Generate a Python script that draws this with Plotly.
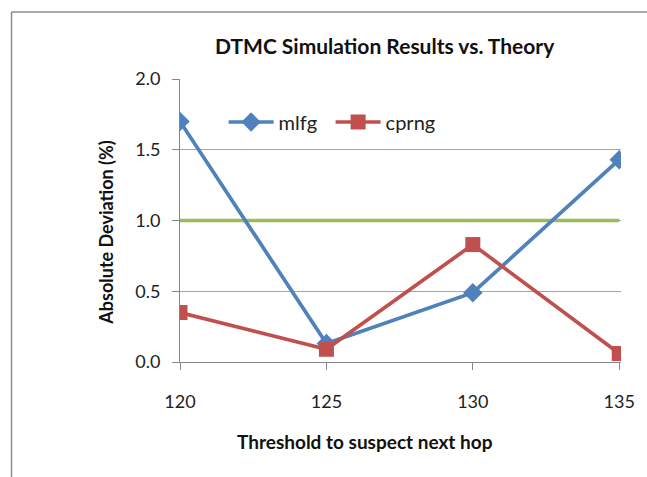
import plotly.graph_objects as go

thresholds = [120, 125, 130, 135]
mlfg = [1.70, 0.13, 0.49, 1.43]
cprng = [0.35, 0.09, 0.83, 0.06]
theory = [1.0, 1.0, 1.0, 1.0]
y_ticks = [0.0, 0.5, 1.0, 1.5, 2.0]
y_tick_labels = ["0.0", "0.5", "1.0", "1.5", "2.0"]
x_ticks = [120, 125, 130, 135]

W, H = 647, 477
L, R, T, B = 180, 22, 79, 115
PW, PH = W - L - R, H - T - B

font = "Lato, 'Open Sans', sans-serif"

fig = go.Figure()
fig.add_trace(go.Scatter(x=thresholds, y=theory, mode="lines", name="theory",
                         line=dict(color="#9BBB59", width=3.5), showlegend=False))
fig.add_trace(go.Scatter(x=thresholds, y=mlfg, mode="lines+markers", name="mlfg",
                         line=dict(color="#4F81BD", width=3.7),
                         marker=dict(symbol="diamond", size=15, color="#4F81BD")))
fig.add_trace(go.Scatter(x=thresholds, y=cprng, mode="lines+markers", name="cprng",
                         line=dict(color="#C0504D", width=3.7),
                         marker=dict(symbol="square", size=15, color="#C0504D")))

fig.update_layout(
    width=W, height=H,
    margin=dict(l=L, r=R, t=T, b=B),
    paper_bgcolor="white", plot_bgcolor="white",
    font=dict(family=font, color="#222222"),
    showlegend=True,
    legend=dict(orientation="h", x=(224 - L) / PW, y=((H - B) - 122) / PH,
                xanchor="left", yanchor="middle", bgcolor="rgba(0,0,0,0)",
                font=dict(size=20, family=font, color="#222222"), itemwidth=45,
                entrywidth=47, entrywidthmode="pixels", tracegroupgap=0),
    annotations=[
        dict(text="DTMC Simulation Results vs. Theory", xref="paper", yref="paper",
             x=(387 - L) / PW, y=1 + (T - 45) / PH, xanchor="center", yanchor="middle",
             showarrow=False, font=dict(size=21, family=font, color="#111111", weight="bold")),
        dict(text="Threshold to suspect next hop", xref="paper", yref="paper",
             x=(367 - L) / PW, y=-(441 - (H - B)) / PH, xanchor="center", yanchor="middle",
             showarrow=False, font=dict(size=19, family=font, color="#111111", weight="bold")),
        dict(text="Absolute Deviation (%)", xref="paper", yref="paper", textangle=-90,
             x=-(L - 105) / PW, y=((H - B) - 233) / PH, xanchor="center", yanchor="middle",
             showarrow=False, font=dict(size=18, family=font, color="#111111", weight="bold")),
    ],
    shapes=[
        dict(type="line", xref="paper", yref="paper",
             x0=-(L - 10) / PW, x1=1.2,
             y0=1 + (T - 12) / PH, y1=1 + (T - 12) / PH,
             line=dict(color="#8c8c8c", width=1.5)),
        dict(type="line", xref="paper", yref="paper",
             x0=-(L - 10) / PW, x1=-(L - 10) / PW,
             y0=1 + (T - 12) / PH, y1=-(B + 10) / PH,
             line=dict(color="#8c8c8c", width=1.5)),
    ],
)

fig.update_xaxes(range=[120, 135.06], tickvals=x_ticks, ticks="outside", ticklen=7,
                 tickcolor="#868686", showline=True, linecolor="#868686", linewidth=1,
                 showgrid=False, zeroline=False,
                 tickfont=dict(size=18, family=font, color="#222222"),
                 ticklabelstandoff=16)
fig.update_yaxes(range=[0, 2.0], tickvals=y_ticks, ticktext=y_tick_labels, ticks="outside",
                 ticklen=7, tickcolor="#868686", showline=True, linecolor="#868686", linewidth=1,
                 showgrid=True, gridcolor="#a6a6a6", gridwidth=1, zeroline=False,
                 tickfont=dict(size=18, family=font, color="#222222"),
                 ticklabelstandoff=8)

fig.write_html("out.html")
